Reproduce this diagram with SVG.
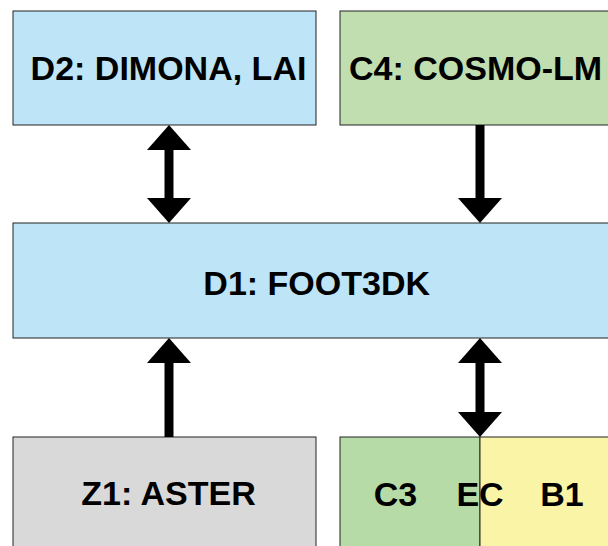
<svg xmlns="http://www.w3.org/2000/svg" width="608" height="546" viewBox="0 0 608 546">
<style>
.box{stroke:#222;stroke-width:1}
.lbl{font-family:"Liberation Sans",Arial,sans-serif;font-weight:bold;font-size:34px;fill:#000}
.arr{stroke:#000;stroke-width:9;fill:none}
</style>
<defs>
<marker id="ah" viewBox="0 0 25 44" refX="5" refY="22" markerWidth="25" markerHeight="44" markerUnits="userSpaceOnUse" orient="auto-start-reverse">
<path d="M0,0 L25,22 L0,44 Z" fill="#000"/>
</marker>
</defs>
<rect width="608" height="546" fill="#fff"/>
<g id="D2">
<rect class="box" x="13" y="11" width="303" height="114" fill="#bde4f7"/>
<text class="lbl" x="168.5" y="80" text-anchor="middle">D2: DIMONA, LAI</text>
</g>
<g id="C4">
<rect class="box" x="340" y="11" width="300" height="114" fill="#c1deb0"/>
<text class="lbl" x="349" y="80">C4: COSMO-LM</text>
</g>
<g id="D1">
<rect class="box" x="13" y="223" width="630" height="115" fill="#bde4f7"/>
<text class="lbl" x="316.7" y="295" text-anchor="middle">D1: FOOT3DK</text>
</g>
<g id="Z1">
<rect class="box" x="13" y="437" width="303" height="130" fill="#d9d9d9"/>
<text class="lbl" x="168.5" y="505" text-anchor="middle">Z1: ASTER</text>
</g>
<g id="C3">
<rect class="box" x="340" y="437" width="140" height="130" fill="#b7dba6"/>
</g>
<g id="B1">
<rect class="box" x="480" y="437" width="160" height="130" fill="#f9f4a6"/>
</g>
<g id="C3EB1-labels">
<text class="lbl" y="506" text-anchor="middle"><tspan x="395.5">C3</tspan><tspan x="480">EC</tspan><tspan x="562">B1</tspan></text>
</g>
<g id="connectors">
<line class="arr" x1="169" y1="145" x2="169" y2="203" marker-start="url(#ah)" marker-end="url(#ah)"/>
<line class="arr" x1="480" y1="125" x2="480" y2="203" marker-end="url(#ah)"/>
<line class="arr" x1="169" y1="437" x2="169" y2="358" marker-end="url(#ah)"/>
<line class="arr" x1="480" y1="358" x2="480" y2="417" marker-start="url(#ah)" marker-end="url(#ah)"/>
</g>
</svg>
